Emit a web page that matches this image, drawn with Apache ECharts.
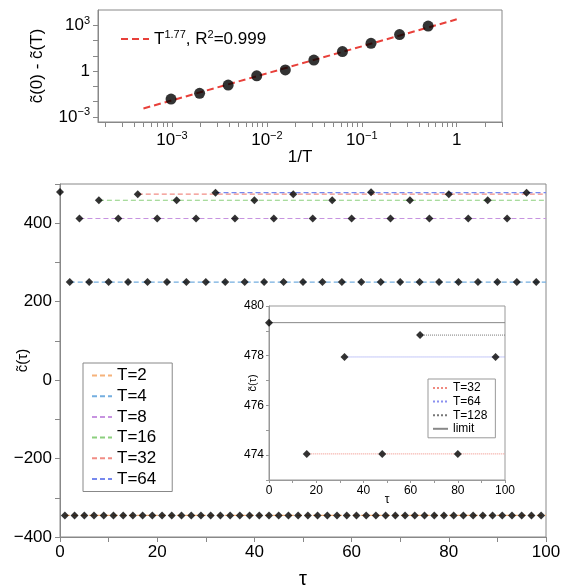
<!DOCTYPE html>
<html><head><meta charset="utf-8">
<script src="https://cdn.jsdelivr.net/npm/echarts@6/dist/echarts.min.js"></script>
<style>html,body{margin:0;padding:0;background:#fff}#c{width:561px;height:587px}</style>
</head><body><div id="c"></div>
<script>
// ---- top panel data ----
const invT = [0.5, 0.25, 0.125, 0.0625, 0.03125, 0.015625, 0.0078125, 0.00390625, 0.001953125, 0.0009765625];
const diffC = [890, 245, 66, 19, 5.25, 1.2, 0.49, 0.123, 0.035, 0.0148];
const fitX = [5e-4, 1];
const fitY = [0.0036, 2450];
const topXLabels = [1e-3, 1e-2, 1e-1, 1];
const topYLabels = [1e-3, 1, 1e3];
const topYTicks = [1e-3, 1e-2, 1e-1, 1, 10, 100, 1e3];
const topXDecades = [1e-4, 1e-3, 1e-2, 1e-1, 1];
const minorMult = [1, 2, 3, 4, 5, 6, 7, 8, 9];

// ---- main panel data ----
const mainNames = ['T=2', 'T=4', 'T=8', 'T=16', 'T=32', 'T=64'];
const mainLevels = [-345, 250, 412, 458.6, 474.05, 477.93];
const mainTaus = [
  [1,3,5,7,9,11,13,15,17,19,21,23,25,27,29,31,33,35,37,39,41,43,45,47,49,51,53,55,57,59,61,63,65,67,69,71,73,75,77,79,81,83,85,87,89,91,93,95,97,99],
  [2,6,10,14,18,22,26,30,34,38,42,46,50,54,58,62,66,70,74,78,82,86,90,94,98],
  [4,12,20,28,36,44,52,60,68,76,84,92],
  [8,24,40,56,72,88],
  [16,48,80],
  [32,96]
];
const mainColors = ['#f6b27a', '#74aee0', '#c793e0', '#8ccf7e', '#f18d85', '#7688ee'];
const extraTau = [0, 64];
const extraVal = [479.33, 478.83];
const tauEnd = 100;
const mainYLabels = [-400, -200, 0, 200, 400];
const mainXLabels = [0, 20, 40, 60, 80, 100];

// ---- inset data ----
const insetIds = ['i32', 'i64', 'i128', 'ilim'];
const insetLabels = ['T=32', 'T=64', 'T=128', 'limit'];
const insetLevels = [474.05, 477.95, 478.83, 479.33];
const insetStart = [16, 32, 64, 0];
const insetTaus = [[16, 48, 80], [32, 96], [64], [0]];
const insetColors = ['#f08a80', '#8a90f0', '#777777', '#888888'];
const insetTypes = ['dotted', 'dotted', 'dotted', 'solid'];
const insetYLabels = [474, 476, 478, 480];
const insetXLabels = [0, 20, 40, 60, 80, 100];

const FONT = 'Liberation Sans';
const AX = '#888';

function supLabel(v) {
  const e = Math.round(Math.log10(v));
  if (e === 0) return '{b|1}';
  return '{b|10}{s|' + (e < 0 ? '\u2212' + (-e) : e) + '}';
}
const supRich = {
  b: { fontSize: 17, lineHeight: 20, fontFamily: FONT, color: '#000' },
  s: { fontSize: 11, lineHeight: 8, verticalAlign: 'top', fontFamily: FONT, color: '#000' }
};
const topXTicks = [];
topXDecades.forEach(d => minorMult.forEach(m => topXTicks.push(d * m)));

const chart = echarts.init(document.getElementById('c'), null, { renderer: 'canvas' });

const series = [];
// top
series.push({
  type: 'line', name: 'fit', xAxisIndex: 0, yAxisIndex: 0,
  data: fitX.map((x, i) => [x, fitY[i]]), symbol: 'none',
  lineStyle: { color: '#e8403a', width: 2, type: [7, 4] }, z: 2
});
series.push({
  type: 'scatter', xAxisIndex: 0, yAxisIndex: 0,
  data: invT.map((x, i) => [x, diffC[i]]), symbol: 'circle', symbolSize: 11,
  itemStyle: { color: '#000' }, z: 3
});
// main lines
mainNames.forEach((n, i) => {
  series.push({
    type: 'line', name: n, xAxisIndex: 1, yAxisIndex: 1, symbol: 'none',
    data: [[mainTaus[i][0], mainLevels[i]], [tauEnd, mainLevels[i]]],
    lineStyle: { color: mainColors[i], width: 1.2, type: [5, 3] }, z: 2
  });
});
const mainPts = [];
mainNames.forEach((n, i) => mainTaus[i].forEach(t => mainPts.push([t, mainLevels[i]])));
extraTau.forEach((t, i) => mainPts.push([t, extraVal[i]]));
series.push({
  type: 'scatter', xAxisIndex: 1, yAxisIndex: 1, data: mainPts,
  symbol: 'diamond', symbolSize: 8, itemStyle: { color: '#000' }, z: 3
});
// inset
insetIds.forEach((id, i) => {
  series.push({
    type: 'line', name: id, xAxisIndex: 2, yAxisIndex: 2, symbol: 'none',
    data: [[insetStart[i], insetLevels[i]], [tauEnd, insetLevels[i]]],
    lineStyle: { color: insetColors[i], width: 1, type: insetTypes[i] }, z: 12
  });
});
const insetPts = [];
insetIds.forEach((id, i) => insetTaus[i].forEach(t => insetPts.push([t, insetLevels[i]])));
series.push({
  type: 'scatter', xAxisIndex: 2, yAxisIndex: 2, data: insetPts,
  symbol: 'diamond', symbolSize: 8, itemStyle: { color: '#000' }, z: 13
});

const option = {
  animation: false,
  backgroundColor: '#fff',
  textStyle: { fontFamily: FONT },
  grid: [
    { left: 98, top: 10, width: 404, height: 112, show: true, borderColor: AX, borderWidth: 1, containLabel: false, outerBoundsMode: 'none' },
    { left: 60, top: 184, width: 486, height: 353, show: true, borderColor: AX, borderWidth: 1, containLabel: false, outerBoundsMode: 'none' },
    { left: 269, top: 306, width: 236, height: 174, show: true, borderColor: '#999', borderWidth: 1, backgroundColor: '#fff', z: 10, containLabel: false, outerBoundsMode: 'none' }
  ],
  xAxis: [
    { gridIndex: 0, type: 'log', min: 1.66e-4, max: 3, logBase: 10,
      axisLine: { onZero: false, lineStyle: { color: AX } },
      axisTick: { show: true, inside: false, length: 5, lineStyle: { color: AX }, customValues: topXTicks },
      axisLabel: { customValues: topXLabels, formatter: supLabel, rich: supRich, margin: 8 },
      splitLine: { show: false },
      name: '1/T', nameLocation: 'middle', nameGap: 27, nameMoveOverlap: false,
      nameTextStyle: { fontSize: 17, color: '#000', fontFamily: FONT } },
    { gridIndex: 1, type: 'value', min: 0, max: 100, interval: 10,
      axisLine: { onZero: false, lineStyle: { color: AX } },
      axisTick: { inside: false, length: 5, lineStyle: { color: AX } },
      axisLabel: { customValues: mainXLabels, fontSize: 17, color: '#000', margin: 7, fontFamily: FONT },
      splitLine: { show: false },
      name: '\u03c4', nameLocation: 'middle', nameGap: 32, nameMoveOverlap: false,
      nameTextStyle: { fontSize: 20, color: '#000', fontFamily: FONT } },
    { gridIndex: 2, type: 'value', min: 0, max: 100, interval: 10, z: 11,
      axisLine: { onZero: false, lineStyle: { color: '#999' } },
      axisTick: { inside: false, length: 3, lineStyle: { color: '#999' } },
      axisLabel: { customValues: insetXLabels, fontSize: 12, color: '#000', margin: 5, fontFamily: FONT },
      splitLine: { show: false },
      name: '\u03c4', nameLocation: 'middle', nameGap: 14, nameMoveOverlap: false,
      nameTextStyle: { fontSize: 12, color: '#000', fontFamily: FONT } }
  ],
  yAxis: [
    { gridIndex: 0, type: 'log', min: 4.68e-4, max: 1e4, logBase: 10,
      axisLine: { onZero: false, lineStyle: { color: AX } },
      axisTick: { inside: false, length: 5, lineStyle: { color: AX }, customValues: topYTicks },
      axisLabel: { customValues: topYLabels, formatter: supLabel, rich: supRich, margin: 8 },
      splitLine: { show: false },
      name: 'c\u0303(0) - c\u0303(T)', nameLocation: 'middle', nameGap: 52, nameMoveOverlap: false,
      nameTextStyle: { fontSize: 17, color: '#000', fontFamily: FONT } },
    { gridIndex: 1, type: 'value', min: -400, max: 500, interval: 100,
      axisLine: { onZero: false, lineStyle: { color: AX } },
      axisTick: { inside: false, length: 5, lineStyle: { color: AX } },
      axisLabel: { customValues: mainYLabels, fontSize: 17, color: '#000', margin: 8, fontFamily: FONT,
        formatter: v => (v < 0 ? '\u2212' + (-v) : '' + v) },
      splitLine: { show: false },
      name: 'c\u0303(\u03c4)', nameLocation: 'middle', nameGap: 30, nameMoveOverlap: false,
      nameTextStyle: { fontSize: 15, color: '#000', fontFamily: FONT } },
    { gridIndex: 2, type: 'value', min: 473, max: 480, interval: 1, z: 11,
      axisLine: { onZero: false, lineStyle: { color: '#999' } },
      axisTick: { inside: false, length: 3, lineStyle: { color: '#999' } },
      axisLabel: { customValues: insetYLabels, fontSize: 12, color: '#000', margin: 5, fontFamily: FONT },
      splitLine: { show: false },
      name: 'c\u0303(\u03c4)', nameLocation: 'middle', nameGap: 11, nameMoveOverlap: false,
      nameTextStyle: { fontSize: 11, color: '#000', fontFamily: FONT, padding: [0, 0, 0, 20] } }
  ],
  legend: [
    { data: ['fit'], left: 120, top: 29, itemWidth: 28, itemHeight: 10, padding: 0,
      itemStyle: { opacity: 0, borderWidth: 0 },
      formatter: () => '{b|T}{s|1.77}{b|, R}{s|2}{b|=0.999}',
      textStyle: { rich: supRich, padding: [0, 0, 0, 0] }, selectedMode: false },
    { data: mainNames, orient: 'vertical', left: 83, top: 363, itemWidth: 20, itemHeight: 14, itemGap: 3.7,
      padding: [4, 16, 4, 8], borderColor: AX, borderWidth: 1, backgroundColor: '#fff',
      itemStyle: { opacity: 0, borderWidth: 0 },
      textStyle: { fontSize: 17, lineHeight: 17, color: '#000', fontFamily: FONT }, selectedMode: false },
    { data: insetIds, orient: 'vertical', left: 428, top: 379, itemWidth: 15, itemHeight: 10, itemGap: 1.6, z: 20,
      padding: [3, 8, 3, 4], borderColor: '#999', borderWidth: 1, backgroundColor: '#fff',
      itemStyle: { opacity: 0, borderWidth: 0 },
      formatter: name => insetLabels[insetIds.indexOf(name)],
      textStyle: { fontSize: 12, lineHeight: 12, color: '#000', fontFamily: FONT }, selectedMode: false }
  ],
  series: series
};
chart.setOption(option);
</script>
</body></html>
